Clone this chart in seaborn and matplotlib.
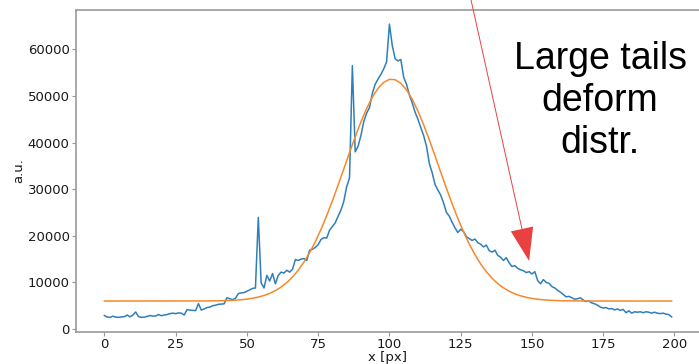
import matplotlib
matplotlib.use("Agg")
import matplotlib.pyplot as plt
import seaborn as sns
import pandas as pd

# ---- data ----
x_px = list(range(200))
intensity = [
    2900, 2550, 2500, 2750, 2550, 2500, 2600, 2650, 3000, 2600,
    3000, 3650, 2650, 2500, 2550, 2700, 2900, 2750, 2800, 3100,
    2850, 3000, 3100, 3300, 3400, 3300, 3450, 3400, 3000, 4150,
    4050, 4000, 3950, 5450, 4050, 4300, 4600, 4700, 5000, 5100,
    5300, 5350, 5400, 6700, 6500, 6300, 6600, 7600, 7750, 7800,
    8100, 8400, 8700, 8800, 23950, 9900, 8800, 11500, 10300, 11900,
    9700, 11500, 12200, 12000, 12600, 12200, 12800, 14900, 14700, 15000,
    15100, 14700, 16900, 17100, 17500, 18100, 19200, 19600, 19500, 21200,
    22000, 22800, 24200, 25500, 27400, 30500, 32400, 56500, 38000, 39200,
    41500, 44500, 46300, 47500, 50500, 52500, 53600, 54600, 55800, 57300,
    65400, 60800, 58000, 57500, 57800, 54000, 52500, 50200, 48500, 46500,
    45000, 43200, 41500, 39200, 35500, 33500, 31000, 29800, 28700, 27000,
    25000, 24200, 22900, 21700, 20700, 21400, 20900, 19800, 19400, 19000,
    19300, 18500, 18200, 17600, 18000, 16800, 16500, 16900, 15800, 15400,
    14700, 15300, 14200, 13400, 13600, 13000, 12700, 12500, 12100, 12300,
    11800, 12300, 10400, 9700, 10600, 10000, 9800, 9100, 8800, 8300,
    7900, 7400, 6900, 7000, 6700, 6400, 6500, 6700, 6200, 5900,
    6000, 5600, 5400, 5100, 4700, 4500, 4600, 4300, 4400, 4100,
    4300, 4000, 4200, 3500, 3900, 3400, 3700, 3600, 3700, 3500,
    3700, 3600, 3400, 3600, 3400, 3300, 3400, 3200, 3100, 2600,
]

fit_x = [0, 36] + list(range(40, 164, 2)) + [170, 199]
fit_y = [
    6000, 6020,
    6054, 6083, 6127, 6192, 6285, 6416, 6600, 6853, 7193, 7647,
    8238, 8998, 9958, 11150, 12602, 14340, 16377, 18728, 21384, 24321,
    27506, 30871, 34346, 37835, 41234, 44423, 47288, 49725, 51629, 52919,
    53544, 53474, 52713, 51294, 49277, 46746, 43804, 40562, 37140, 33646,
    30190, 26854, 23712, 20827, 18233, 15944, 13963, 12288, 10889, 9748,
    8831, 8108, 7546, 7117, 6795, 6558, 6386, 6263, 6177, 6117,
    6076, 6049,
    6005, 6000,
]

annotation_text = "Large tails\ndeform\ndistr."
xlabel = "x [px]"
ylabel = "a.u."

df_data = pd.DataFrame({"x": x_px, "y": intensity})
df_fit = pd.DataFrame({"x": fit_x, "y": fit_y})

fig = plt.figure(figsize=(6.99, 3.64), dpi=100)
ax = fig.add_axes([76 / 699, 32 / 364, (700 - 76) / 699, (332 - 9.5) / 364])

sns.lineplot(data=df_data, x="x", y="y", ax=ax, color="#2f7fba", lw=1.1)
sns.lineplot(data=df_fit, x="x", y="y", ax=ax, color="#f5892a", lw=1.1)

ax.set_xlim(-9.95, 208.95)
ax.set_ylim(-640, 68530)
ax.set_xticks([0, 25, 50, 75, 100, 125, 150, 175, 200])
ax.set_yticks([0, 10000, 20000, 30000, 40000, 50000, 60000])
ax.tick_params(labelsize=9.5, colors="#999999", labelcolor="#1a1a1a",
               length=3, pad=1.5)
for s in ax.spines.values():
    s.set_color("#999999")
    s.set_linewidth(1.2)
ax.set_xlabel(xlabel, fontsize=9.5, color="#1a1a1a", labelpad=0)
ax.set_ylabel(ylabel, fontsize=9.5, color="#1a1a1a", labelpad=2)

ax.annotate("", xy=(149.0, 14590), xytext=(125.5, 79150),
            arrowprops=dict(facecolor="#e94040", edgecolor="#e94040",
                            width=0.7, headwidth=16.4, headlength=23.6,
                            shrink=0, lw=0),
            annotation_clip=False)

ax.text(173.9, 48900, annotation_text, ha="center", va="center",
        fontsize=27, family=["Liberation Sans", "DejaVu Sans"], color="black")

fig.savefig("out.png", dpi=100)
